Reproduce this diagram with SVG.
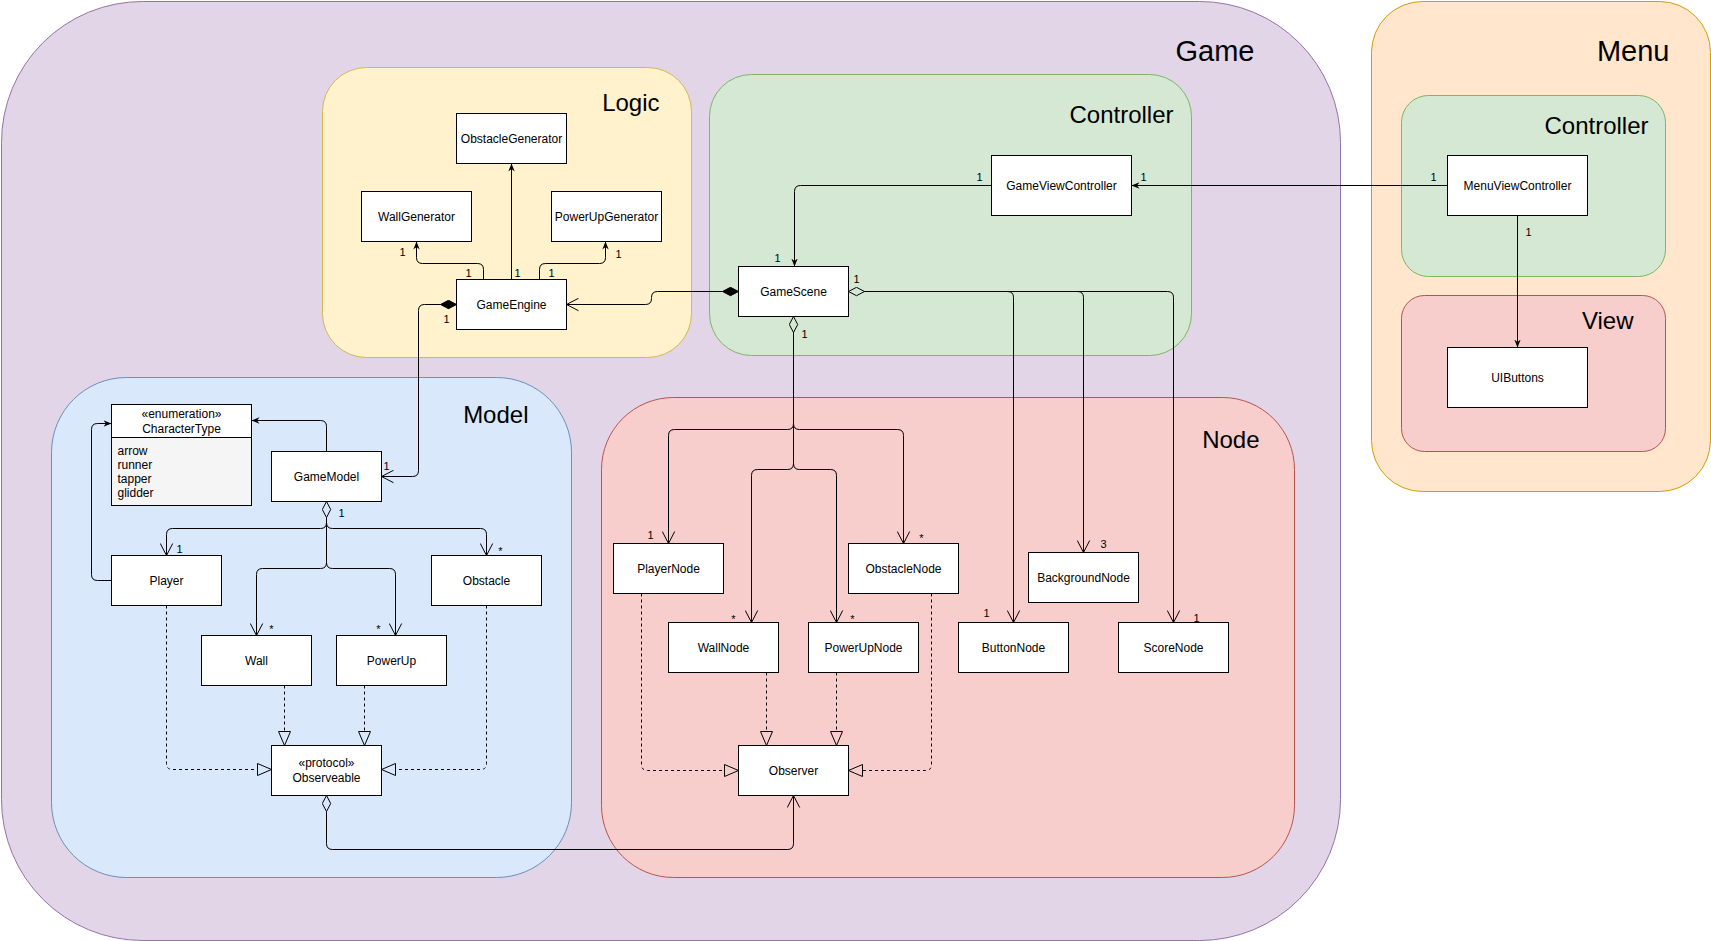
<svg xmlns="http://www.w3.org/2000/svg" width="1711" height="941" viewBox="0 0 1711 941">
  <style>
    .box { fill: #ffffff; stroke: #000000; stroke-width: 1; }
    .lbl { font-family: "Liberation Sans", Arial, Helvetica, sans-serif; font-size: 12px; fill: #000; text-anchor: middle; }
    .item { font-family: "Liberation Sans", Arial, Helvetica, sans-serif; font-size: 12px; fill: #000; }
    .title { font-family: "Liberation Sans", Arial, Helvetica, sans-serif; font-size: 24px; fill: #000; text-anchor: end; }
    .big { font-size: 29px; }
    .mult { font-family: "Liberation Sans", Arial, Helvetica, sans-serif; font-size: 11px; fill: #000; text-anchor: middle; }
    .edge { fill: none; stroke: #000; stroke-width: 1; }
    .dash { stroke-dasharray: 3 3; }
    .arrow { marker-end: url(#arrow); }
    .open { marker-end: url(#open); }
    .real { marker-end: url(#tri); }
    .agg { marker-start: url(#diamond); }
    .comp { marker-start: url(#diamondFilled); }
  </style>
  <defs>
    <!-- filled navigation arrow -->
    <marker id="arrow" viewBox="0 0 10 10" refX="10" refY="5" markerWidth="8" markerHeight="8" markerUnits="userSpaceOnUse" orient="auto">
      <path d="M0,1 L10,5 L0,9 L3,5 Z" fill="#000" stroke="none"/>
    </marker>
    <!-- open association arrow -->
    <marker id="open" viewBox="0 0 14 14" refX="13" refY="7" markerWidth="14" markerHeight="14" markerUnits="userSpaceOnUse" orient="auto">
      <path d="M1,0.8 L13,7 L1,13.2" fill="none" stroke="#000" stroke-width="1"/>
    </marker>
    <!-- hollow realization triangle, drawn beyond the path end -->
    <marker id="tri" viewBox="0 0 15 13" refX="0.5" refY="6.5" markerWidth="15" markerHeight="13" markerUnits="userSpaceOnUse" orient="auto">
      <path d="M0.5,0.5 L14.5,6.5 L0.5,12.5 Z" fill="none" stroke="#000" stroke-width="1"/>
    </marker>
    <!-- aggregation / composition diamonds at the owning end -->
    <marker id="diamond" viewBox="0 0 17 10" refX="0.5" refY="5" markerWidth="17" markerHeight="10" markerUnits="userSpaceOnUse" orient="auto-start-reverse">
      <path d="M0.5,5 L8.5,0.8 L16.5,5 L8.5,9.2 Z" fill="none" stroke="#000" stroke-width="1"/>
    </marker>
    <marker id="diamondFilled" viewBox="0 0 17 10" refX="0.5" refY="5" markerWidth="17" markerHeight="10" markerUnits="userSpaceOnUse" orient="auto-start-reverse">
      <path d="M0.5,5 L8.5,0.8 L16.5,5 L8.5,9.2 Z" fill="#000" stroke="#000" stroke-width="1"/>
    </marker>
  </defs>

  <g transform="translate(0.5,0.5)">
    <!-- packages -->
    <g id="pkg-game">
      <rect x="1" y="1" width="1339" height="939" rx="141" ry="141" fill="#e1d5e7" stroke="#9673a6"/>
      <text class="title big" x="1254" y="60">Game</text>
    </g>
    <g id="pkg-menu">
      <rect x="1371" y="1" width="339" height="490" rx="51" ry="51" fill="#ffe6cc" stroke="#d79b00"/>
      <text class="title big" x="1669" y="60">Menu</text>
    </g>
    <g id="pkg-logic">
      <rect x="322" y="67" width="369" height="290" rx="44" ry="44" fill="#fff2cc" stroke="#d6b656"/>
      <text class="title" x="659" y="110">Logic</text>
    </g>
    <g id="pkg-game-controller">
      <rect x="709" y="74" width="482" height="281" rx="42" ry="42" fill="#d5e8d4" stroke="#82b366"/>
      <text class="title" x="1173" y="122.5">Controller</text>
    </g>
    <g id="pkg-model">
      <rect x="51" y="377" width="520" height="500" rx="75" ry="75" fill="#dae8fc" stroke="#6c8ebf"/>
      <text class="title" x="528" y="422">Model</text>
    </g>
    <g id="pkg-node">
      <rect x="601" y="397" width="693" height="480" rx="72" ry="72" fill="#f8cecc" stroke="#b85450"/>
      <text class="title" x="1259" y="447">Node</text>
    </g>
    <g id="pkg-menu-controller">
      <rect x="1401" y="95" width="264" height="181" rx="27" ry="27" fill="#d5e8d4" stroke="#82b366"/>
      <text class="title" x="1648" y="133">Controller</text>
    </g>
    <g id="pkg-menu-view">
      <rect x="1401" y="295" width="264" height="156" rx="23" ry="23" fill="#f8cecc" stroke="#b85450"/>
      <text class="title" x="1633" y="328">View</text>
    </g>

    <!-- relations -->
    <g id="connectors">
      <!-- GameEngine uses the generators -->
      <path class="edge arrow" d="M483,279 V269 Q483,263 477,263 H422 Q416,263 416,257 V241"/>
      <path class="edge arrow" d="M511,279 V163"/>
      <path class="edge arrow" d="M539,279 V269 Q539,263 545,263 H599 Q605,263 605,257 V241"/>
      <!-- GameEngine owns GameModel -->
      <path class="edge comp open" d="M440,304 H424 Q418,304 418,310 V470 Q418,476 412,476 H381"/>
      <!-- GameScene owns GameEngine -->
      <path class="edge comp open" d="M722,291 H657 Q651,291 651,297 V298 Q651,304 645,304 H566"/>
      <!-- controllers -->
      <path class="edge arrow" d="M991,185 H800 Q794,185 794,191 V266"/>
      <path class="edge arrow" d="M1447,185 H1131"/>
      <path class="edge arrow" d="M1517,215 V347"/>
      <!-- GameScene aggregates nodes (right side) -->
      <path class="edge agg open" d="M864,291 H1007 Q1013,291 1013,297 V622"/>
      <path class="edge open" d="M864,291 H1077 Q1083,291 1083,297 V552"/>
      <path class="edge open" d="M864,291 H1167 Q1173,291 1173,297 V622"/>
      <!-- GameScene aggregates nodes (below) -->
      <path class="edge agg open" d="M793,332 V423 Q793,429 787,429 H674 Q668,429 668,435 V543"/>
      <path class="edge open" d="M793,332 V423 Q793,429 799,429 H897 Q903,429 903,435 V543"/>
      <path class="edge open" d="M793,332 V463 Q793,469 787,469 H757 Q751,469 751,475 V622"/>
      <path class="edge open" d="M793,332 V463 Q793,469 799,469 H830 Q836,469 836,475 V622"/>
      <!-- GameModel aggregates entities -->
      <path class="edge agg open" d="M326,517 V522 Q326,528 320,528 H172 Q166,528 166,534 V555"/>
      <path class="edge open" d="M326,517 V522 Q326,528 332,528 H480 Q486,528 486,534 V555"/>
      <path class="edge open" d="M326,517 V562 Q326,568 320,568 H262 Q256,568 256,574 V635"/>
      <path class="edge open" d="M326,517 V562 Q326,568 332,568 H389 Q395,568 395,574 V635"/>
      <!-- CharacterType references -->
      <path class="edge arrow" d="M326,451 V426 Q326,420 320,420 H251"/>
      <path class="edge arrow" d="M111,580 H97 Q91,580 91,574 V429 Q91,423 97,423 H111"/>
      <!-- Observeable realizations -->
      <path class="edge dash real" d="M166,605 V763 Q166,769 172,769 H257"/>
      <path class="edge dash real" d="M284,685 V731"/>
      <path class="edge dash real" d="M364,685 V731"/>
      <path class="edge dash real" d="M486,605 V763 Q486,769 480,769 H395"/>
      <!-- Observer realizations -->
      <path class="edge dash real" d="M641,593 V764 Q641,770 647,770 H724"/>
      <path class="edge dash real" d="M766,672 V731"/>
      <path class="edge dash real" d="M836,672 V731"/>
      <path class="edge dash real" d="M931,593 V764 Q931,770 925,770 H862"/>
      <!-- Observeable holds Observer -->
      <path class="edge agg open" d="M326,811 V843 Q326,849 332,849 H787 Q793,849 793,843 V795"/>

      <!-- multiplicities -->
      <text class="mult" x="402" y="255">1</text>
      <text class="mult" x="468" y="276">1</text>
      <text class="mult" x="517" y="276">1</text>
      <text class="mult" x="551" y="276">1</text>
      <text class="mult" x="618" y="257">1</text>
      <text class="mult" x="446" y="322">1</text>
      <text class="mult" x="386" y="469">1</text>
      <text class="mult" x="979" y="180">1</text>
      <text class="mult" x="777" y="261">1</text>
      <text class="mult" x="1433" y="180">1</text>
      <text class="mult" x="1143" y="180">1</text>
      <text class="mult" x="1528" y="235">1</text>
      <text class="mult" x="856" y="282">1</text>
      <text class="mult" x="986" y="616">1</text>
      <text class="mult" x="1103" y="547">3</text>
      <text class="mult" x="1196" y="621">1</text>
      <text class="mult" x="804" y="337">1</text>
      <text class="mult" x="650" y="538">1</text>
      <text class="mult" x="921" y="541">*</text>
      <text class="mult" x="733" y="622">*</text>
      <text class="mult" x="852" y="622">*</text>
      <text class="mult" x="341" y="516">1</text>
      <text class="mult" x="179" y="552">1</text>
      <text class="mult" x="500" y="554">*</text>
      <text class="mult" x="271" y="632">*</text>
      <text class="mult" x="378" y="632">*</text>
    </g>

    <!-- Logic classes -->
    <g id="ObstacleGenerator"><rect class="box" x="456" y="113" width="110" height="50"/><text class="lbl" x="511" y="142">ObstacleGenerator</text></g>
    <g id="WallGenerator"><rect class="box" x="361" y="191" width="110" height="50"/><text class="lbl" x="416" y="220">WallGenerator</text></g>
    <g id="PowerUpGenerator"><rect class="box" x="551" y="191" width="110" height="50"/><text class="lbl" x="606" y="220">PowerUpGenerator</text></g>
    <g id="GameEngine"><rect class="box" x="456" y="279" width="110" height="50"/><text class="lbl" x="511" y="308">GameEngine</text></g>

    <!-- Controller classes -->
    <g id="GameViewController"><rect class="box" x="991" y="155" width="140" height="60"/><text class="lbl" x="1061" y="189">GameViewController</text></g>
    <g id="GameScene"><rect class="box" x="738" y="266" width="110" height="50"/><text class="lbl" x="793" y="295">GameScene</text></g>
    <g id="MenuViewController"><rect class="box" x="1447" y="155" width="140" height="60"/><text class="lbl" x="1517" y="189">MenuViewController</text></g>
    <g id="UIButtons"><rect class="box" x="1447" y="347" width="140" height="60"/><text class="lbl" x="1517" y="381">UIButtons</text></g>

    <!-- Model classes -->
    <g id="CharacterType">
      <rect x="111" y="404" width="140" height="101" fill="#f5f5f5" stroke="#000"/>
      <rect class="box" x="111" y="404" width="140" height="33"/>
      <text class="lbl" x="181" y="417">«enumeration»</text>
      <text class="lbl" x="181" y="432">CharacterType</text>
      <text class="item" x="117" y="454">arrow</text>
      <text class="item" x="117" y="468">runner</text>
      <text class="item" x="117" y="482">tapper</text>
      <text class="item" x="117" y="496">glidder</text>
    </g>
    <g id="GameModel"><rect class="box" x="271" y="451" width="110" height="50"/><text class="lbl" x="326" y="480">GameModel</text></g>
    <g id="Player"><rect class="box" x="111" y="555" width="110" height="50"/><text class="lbl" x="166" y="584">Player</text></g>
    <g id="Obstacle"><rect class="box" x="431" y="555" width="110" height="50"/><text class="lbl" x="486" y="584">Obstacle</text></g>
    <g id="Wall"><rect class="box" x="201" y="635" width="110" height="50"/><text class="lbl" x="256" y="664">Wall</text></g>
    <g id="PowerUp"><rect class="box" x="336" y="635" width="110" height="50"/><text class="lbl" x="391" y="664">PowerUp</text></g>
    <g id="Observeable">
      <rect class="box" x="271" y="745" width="110" height="50"/>
      <text class="lbl" x="326" y="766">«protocol»</text>
      <text class="lbl" x="326" y="781">Observeable</text>
    </g>

    <!-- Node classes -->
    <g id="PlayerNode"><rect class="box" x="613" y="543" width="110" height="50"/><text class="lbl" x="668" y="572">PlayerNode</text></g>
    <g id="ObstacleNode"><rect class="box" x="848" y="543" width="110" height="50"/><text class="lbl" x="903" y="572">ObstacleNode</text></g>
    <g id="BackgroundNode"><rect class="box" x="1028" y="552" width="110" height="50"/><text class="lbl" x="1083" y="581">BackgroundNode</text></g>
    <g id="WallNode"><rect class="box" x="668" y="622" width="110" height="50"/><text class="lbl" x="723" y="651">WallNode</text></g>
    <g id="PowerUpNode"><rect class="box" x="808" y="622" width="110" height="50"/><text class="lbl" x="863" y="651">PowerUpNode</text></g>
    <g id="ButtonNode"><rect class="box" x="958" y="622" width="110" height="50"/><text class="lbl" x="1013" y="651">ButtonNode</text></g>
    <g id="ScoreNode"><rect class="box" x="1118" y="622" width="110" height="50"/><text class="lbl" x="1173" y="651">ScoreNode</text></g>
    <g id="Observer"><rect class="box" x="738" y="745" width="110" height="50"/><text class="lbl" x="793" y="774">Observer</text></g>
  </g>
</svg>
